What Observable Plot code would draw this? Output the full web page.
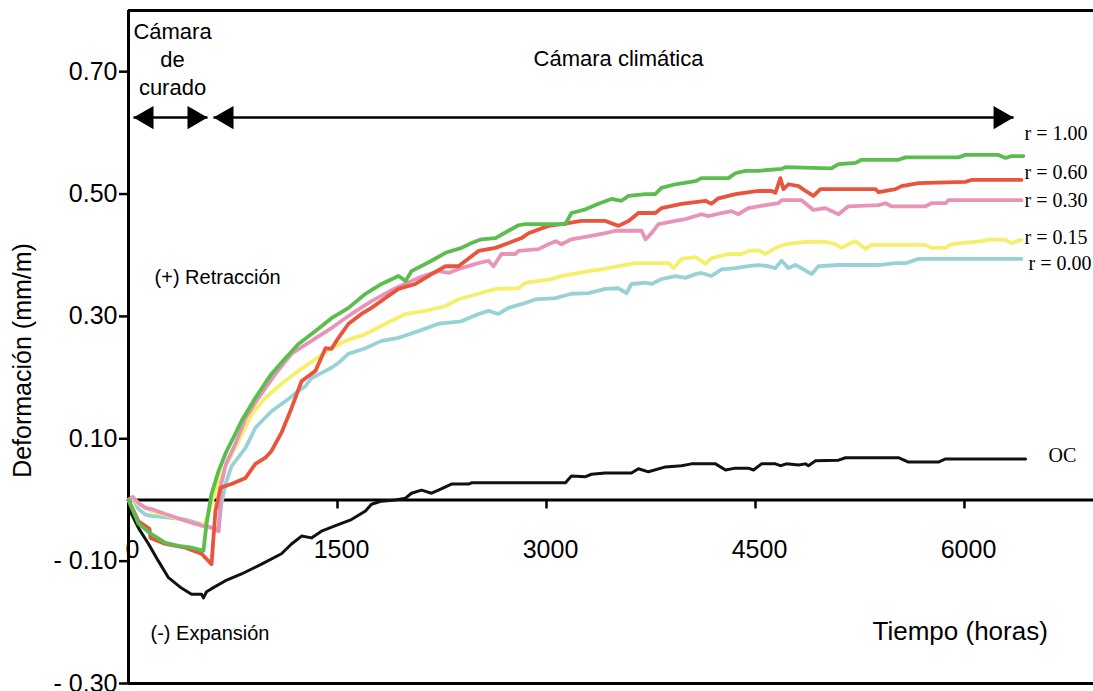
<!DOCTYPE html>
<html><head><meta charset="utf-8">
<script src="https://cdn.jsdelivr.net/npm/d3@7"></script>
<script src="https://cdn.jsdelivr.net/npm/@observablehq/plot@0.6"></script>
<style>body{margin:0;background:#fff} svg{display:block}</style>
</head><body><div id="chart"></div>
<script>
// ---- data: [hours, deformation mm/m] ----
const r100 = [[0,0],[72,-0.039],[165,-0.056],[265,-0.070],[359,-0.075],[452,-0.078],[538,-0.083],[560,-0.039],[596,0.010],[646,0.047],[700,0.078],[760,0.105],[811,0.129],[911,0.167],[1026,0.206],[1127,0.232],[1220,0.255],[1342,0.276],[1457,0.297],[1579,0.314],[1701,0.337],[1816,0.353],[1938,0.366],[1988,0.358],[2031,0.374],[2175,0.391],[2275,0.404],[2390,0.412],[2462,0.420],[2533,0.426],[2634,0.428],[2727,0.440],[2799,0.449],[2849,0.451],[3136,0.451],[3179,0.469],[3280,0.475],[3373,0.484],[3466,0.492],[3538,0.489],[3589,0.497],[3711,0.500],[3782,0.500],[3825,0.510],[3926,0.516],[4069,0.521],[4112,0.526],[4306,0.526],[4356,0.534],[4428,0.538],[4521,0.538],[4687,0.541],[4715,0.544],[5045,0.542],[5096,0.549],[5218,0.551],[5261,0.556],[5526,0.556],[5577,0.560],[5957,0.560],[6007,0.564],[6244,0.564],[6294,0.559],[6337,0.562],[6423,0.562]];
const r060 = [[0,0],[72,-0.035],[150,-0.047],[158,-0.062],[265,-0.072],[409,-0.078],[524,-0.088],[596,-0.105],[624,-0.018],[660,0.020],[739,0.026],[840,0.036],[911,0.059],[983,0.069],[1026,0.080],[1098,0.110],[1170,0.150],[1242,0.194],[1270,0.199],[1342,0.211],[1414,0.248],[1457,0.247],[1507,0.265],[1579,0.288],[1672,0.304],[1744,0.314],[1844,0.330],[1938,0.345],[2060,0.353],[2175,0.369],[2275,0.382],[2368,0.382],[2512,0.407],[2634,0.412],[2821,0.428],[2871,0.436],[3014,0.448],[3108,0.451],[3251,0.456],[3423,0.456],[3517,0.448],[3589,0.456],[3660,0.469],[3782,0.469],[3825,0.477],[3969,0.484],[4141,0.489],[4184,0.484],[4234,0.493],[4356,0.500],[4521,0.505],[4615,0.505],[4643,0.502],[4679,0.526],[4701,0.508],[4737,0.516],[4809,0.513],[4859,0.505],[4916,0.497],[4966,0.508],[5361,0.508],[5383,0.503],[5505,0.508],[5548,0.513],[5670,0.518],[6007,0.520],[6050,0.523],[6409,0.523]];
const r030 = [[0,0],[30,0.005],[72,-0.005],[122,-0.013],[165,-0.015],[265,-0.023],[409,-0.034],[524,-0.042],[624,-0.047],[646,-0.051],[655,-0.018],[665,0.026],[700,0.059],[768,0.092],[840,0.134],[933,0.167],[1055,0.206],[1170,0.239],[1313,0.260],[1457,0.281],[1600,0.304],[1744,0.325],[1916,0.346],[2081,0.363],[2225,0.374],[2297,0.371],[2390,0.379],[2512,0.387],[2584,0.391],[2620,0.382],[2677,0.402],[2777,0.402],[2799,0.407],[2943,0.410],[3014,0.418],[3065,0.423],[3108,0.418],[3179,0.426],[3301,0.431],[3423,0.436],[3495,0.440],[3682,0.440],[3711,0.426],[3754,0.436],[3804,0.451],[3926,0.456],[3998,0.459],[4112,0.467],[4163,0.464],[4256,0.469],[4328,0.472],[4378,0.467],[4449,0.477],[4521,0.480],[4665,0.485],[4687,0.490],[4830,0.490],[4916,0.474],[5002,0.477],[5096,0.467],[5167,0.480],[5383,0.482],[5433,0.485],[5476,0.480],[5720,0.480],[5763,0.485],[5864,0.485],[5885,0.490],[6409,0.490]];
const r015 = [[0,0],[30,0.004],[72,-0.007],[165,-0.018],[287,-0.026],[409,-0.034],[524,-0.042],[545,-0.038],[574,-0.023],[600,-0.002],[646,0.031],[718,0.064],[789,0.096],[883,0.140],[983,0.167],[1098,0.190],[1220,0.211],[1342,0.230],[1457,0.248],[1557,0.260],[1701,0.271],[1844,0.288],[1988,0.304],[2132,0.309],[2275,0.317],[2368,0.328],[2512,0.337],[2634,0.345],[2799,0.346],[2849,0.355],[2943,0.358],[3036,0.361],[3108,0.366],[3230,0.371],[3301,0.374],[3395,0.377],[3517,0.382],[3639,0.387],[3876,0.387],[3912,0.379],[3969,0.394],[4069,0.397],[4112,0.391],[4141,0.386],[4184,0.395],[4306,0.402],[4400,0.402],[4449,0.407],[4521,0.408],[4572,0.402],[4643,0.412],[4715,0.418],[4859,0.422],[5002,0.422],[5074,0.418],[5117,0.412],[5167,0.418],[5218,0.423],[5290,0.410],[5332,0.417],[5720,0.417],[5763,0.412],[5864,0.412],[5907,0.418],[6122,0.423],[6194,0.426],[6294,0.425],[6337,0.420],[6409,0.425]];
const r000 = [[0,0],[30,0.003],[72,-0.015],[122,-0.024],[165,-0.026],[287,-0.029],[409,-0.032],[524,-0.040],[624,-0.047],[646,-0.051],[667,-0.007],[696,0.026],[739,0.055],[840,0.085],[911,0.118],[1026,0.145],[1148,0.165],[1220,0.178],[1270,0.186],[1313,0.199],[1414,0.211],[1457,0.216],[1507,0.224],[1579,0.239],[1701,0.248],[1816,0.260],[1938,0.265],[2081,0.276],[2225,0.288],[2297,0.290],[2390,0.292],[2512,0.304],[2584,0.309],[2655,0.304],[2727,0.314],[2849,0.322],[2921,0.328],[3065,0.330],[3179,0.337],[3301,0.338],[3423,0.345],[3517,0.346],[3574,0.338],[3610,0.353],[3711,0.355],[3754,0.353],[3825,0.361],[3926,0.366],[3998,0.363],[4069,0.369],[4112,0.371],[4184,0.366],[4256,0.377],[4356,0.379],[4449,0.382],[4521,0.384],[4593,0.382],[4643,0.379],[4687,0.391],[4737,0.379],[4787,0.384],[4830,0.379],[4902,0.369],[4952,0.382],[5096,0.384],[5383,0.384],[5505,0.387],[5577,0.387],[5670,0.394],[6409,0.394]];
const oc = [[0,0],[22,-0.023],[72,-0.046],[144,-0.072],[215,-0.100],[287,-0.127],[380,-0.144],[452,-0.154],[524,-0.154],[538,-0.160],[560,-0.150],[596,-0.145],[696,-0.132],[811,-0.121],[955,-0.105],[1098,-0.088],[1170,-0.072],[1242,-0.059],[1313,-0.062],[1385,-0.051],[1486,-0.042],[1600,-0.032],[1701,-0.018],[1744,-0.007],[1816,-0.002],[1916,0.000],[1988,0.003],[2031,0.011],[2103,0.016],[2175,0.011],[2225,0.016],[2318,0.026],[2440,0.026],[2462,0.028],[3136,0.028],[3179,0.039],[3280,0.038],[3323,0.042],[3423,0.044],[3610,0.044],[3660,0.051],[3732,0.046],[3854,0.054],[3969,0.056],[4041,0.059],[4213,0.059],[4285,0.049],[4356,0.052],[4449,0.052],[4486,0.049],[4543,0.059],[4643,0.059],[4679,0.056],[4722,0.059],[4809,0.057],[4859,0.059],[4880,0.056],[4931,0.064],[5096,0.065],[5146,0.069],[5526,0.069],[5598,0.062],[5813,0.062],[5864,0.067],[6438,0.067]];

const seriesNames = ["OC", "r = 0.00", "r = 0.15", "r = 0.30", "r = 0.60", "r = 1.00"];
const seriesData = [oc, r000, r015, r030, r060, r100];
const seriesColors = ["#111111", "#97d2d6", "#f5ef6c", "#e893b8", "#e9543d", "#5cbd4f"];

const xTicks = [0, 1500, 3000, 4500, 6000];
const yTicks = [0.70, 0.50, 0.30, 0.10, -0.10, -0.30];

// labels at line ends: [name, hours, value]
const endLabels = [["r = 1.00", 6431, 0.599], ["r = 0.60", 6431, 0.535], ["r = 0.30", 6431, 0.4895], ["r = 0.15", 6431, 0.429], ["r = 0.00", 6460, 0.3865], ["OC", 6603, 0.0727]];
// arrows: [start hours, end hours]
const arrowSpans = [[36, 567], [610, 6352]];
const arrowLevel = 0.625;

const rows = seriesData.flatMap((s, k) => s.map(([h, v]) => ({serie: seriesNames[k], h, v})));

const chart = Plot.plot({
  width: 1093, height: 691,
  marginLeft: 128, marginRight: 0, marginTop: 10, marginBottom: 8,
  style: {fontFamily: "'Liberation Sans', Arial, sans-serif", background: "white", color: "black", overflow: "visible"},
  x: {domain: [0, 6926], axis: null},
  y: {domain: [-0.30, 0.80]},
  color: {domain: seriesNames, range: seriesColors},
  marks: [
    Plot.ruleY([0.80, -0.30], {stroke: "black", strokeWidth: 3}),
    Plot.ruleX([0], {stroke: "black", strokeWidth: 3}),
    Plot.ruleY([0], {stroke: "black", strokeWidth: 3}),
    Plot.ruleX(xTicks.filter(d => d > 0), {x: d => d, y1: 0, y2: 0, insetBottom: -9, stroke: "black", strokeWidth: 2.5}),
    Plot.text(xTicks, {x: d => d, y: 0, text: d => String(d), dy: 50, dx: 4, fontSize: 25}),
    Plot.axisY(yTicks, {tickSize: 9, tickPadding: 2, fontSize: 25, strokeWidth: 2.5, label: null,
      tickFormat: d => d < 0 ? "- " + Math.abs(d).toFixed(2) : d.toFixed(2)}),
    Plot.text(["Deformación (mm/m)"], {frameAnchor: "left", y: 0.228, dx: -106, rotate: -90, textAnchor: "middle", fontSize: 25}),
    Plot.line(rows, {x: "h", y: "v", z: "serie", stroke: "serie", strokeWidth: d => d.serie === "OC" ? 3 : 3.8, curve: "linear"}),
    Plot.text(endLabels, {x: d => d[1], y: d => d[2], text: d => d[0], textAnchor: "start", fontSize: 20, fontFamily: "'Liberation Serif', 'Times New Roman', serif"}),
    Plot.link(arrowSpans, {x1: d => d[0], x2: d => d[1], y1: arrowLevel, y2: arrowLevel, stroke: "black", strokeWidth: 2.5}),
    Plot.dot(arrowSpans, {x: d => d[0], y: arrowLevel, symbol: "triangle", r: 8.6, rotate: -90, dx: 13.3, fill: "black", stroke: "none"}),
    Plot.dot(arrowSpans, {x: d => d[1], y: arrowLevel, symbol: "triangle", r: 8.6, rotate: 90, dx: -13.3, fill: "black", stroke: "none"}),
    Plot.text(["Cámara\nde\ncurado"], {x: 316, y: 0.7216, fontSize: 22, lineHeight: 1.27}),
    Plot.text(["Cámara climática"], {x: 3517, y: 0.7216, fontSize: 22}),
    Plot.text(["(+) Retracción"], {x: 187, y: 0.364, textAnchor: "start", fontSize: 20}),
    Plot.text(["(-) Expansión"], {x: 158, y: -0.218, textAnchor: "start", fontSize: 20}),
    Plot.text(["Tiempo (horas)"], {x: 5340, y: -0.215, textAnchor: "start", fontSize: 26})
  ]
});
document.getElementById("chart").appendChild(chart);
</script>
</body></html>
